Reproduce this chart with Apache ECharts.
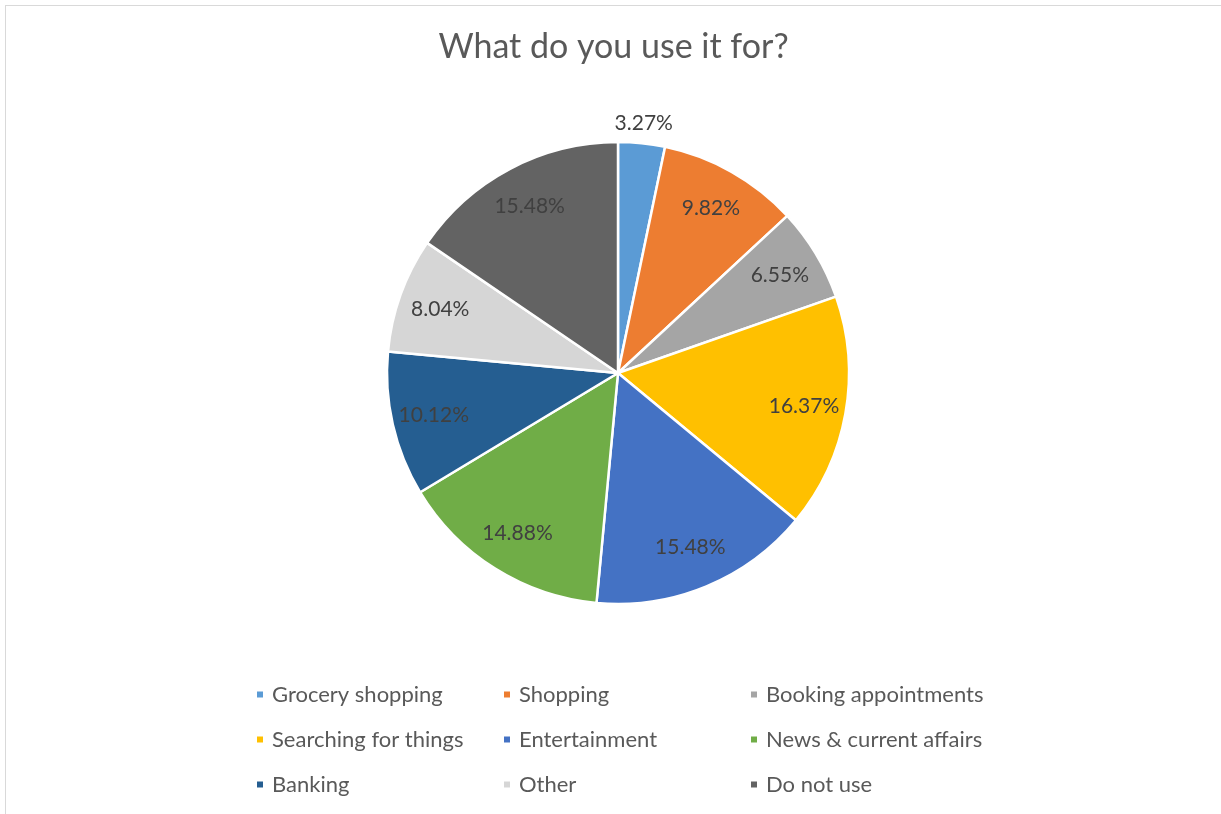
<!DOCTYPE html>
<html>
<head>
<meta charset="utf-8">
<script src="https://cdn.jsdelivr.net/npm/echarts@6/dist/echarts.min.js"></script>
<style>
  html, body { margin: 0; padding: 0; background: #ffffff; }
  #frame {
    position: absolute; left: 5px; top: 5px; width: 1216px; height: 809px;
    border-top: 1px solid #d9d9d9; border-left: 1px solid #d9d9d9;
    box-sizing: border-box; background: #ffffff;
  }
  #chart { width: 100%; height: 100%; }
</style>
</head>
<body>
<div id="frame"><div id="chart"></div></div>
<script>
// Survey answers: what people use it for (share of responses, %)
const categories = [
  'Grocery shopping', 'Shopping', 'Booking appointments',
  'Searching for things', 'Entertainment', 'News & current affairs',
  'Banking', 'Other', 'Do not use'
];
const shares = [3.27, 9.82, 6.55, 16.37, 15.48, 14.88, 10.12, 8.04, 15.48];
const colors = [
  '#5B9BD5', '#ED7D31', '#A5A5A5', '#FFC000', '#4472C4',
  '#70AD47', '#255E91', '#D6D6D6', '#636363'
];
const titleText = 'What do you use it for?';

const FONT = 'Lato, "Open Sans", sans-serif';
const CENTER = [612, 367];
const R = 231;

const fmt = p => p.value.toFixed(2) + '%';

// Slices
const sliceData = categories.map((name, i) => ({
  name, value: shares[i], itemStyle: { color: colors[i] }
}));

// Labels for the larger slices sit ~4/5 of the way out (inside-label of a bigger, invisible pie)
const innerLabelData = categories.map((name, i) => ({
  name, value: shares[i],
  label: { show: i !== 0 }
}));
// The small first slice gets its label just outside the rim
const outerLabelData = categories.map((name, i) => ({
  name, value: shares[i],
  label: { show: i === 0 }
}));

const labelSeriesBase = {
  type: 'pie',
  center: CENTER,
  silent: true,
  startAngle: 90,
  clockwise: true,
  itemStyle: { color: 'rgba(0,0,0,0)', borderWidth: 0 },
  emphasis: { disabled: true },
  labelLine: { show: false },
  label: {
    position: 'inside',
    formatter: fmt,
    fontFamily: FONT,
    fontSize: 21,
    color: '#404040'
  },
  animation: false,
  z: 3
};

const chart = echarts.init(document.getElementById('chart'), null, { renderer: 'canvas' });
chart.setOption({
  backgroundColor: '#ffffff',
  animation: false,
  color: colors,
  title: {
    text: titleText,
    left: 'center',
    top: 19,
    textStyle: { fontFamily: FONT, fontSize: 34, fontWeight: 'normal', color: '#595959' }
  },
  legend: {
    data: categories,
    left: 244,
    top: 666,
    width: 745,
    orient: 'horizontal',
    icon: 'rect',
    itemWidth: 8,
    itemHeight: 8,
    itemGap: 10,
    selectedMode: false,
    textStyle: {
      fontFamily: FONT, fontSize: 22, color: '#595959',
      width: 220, lineHeight: 35, padding: [0, 0, 0, 3]
    }
  },
  series: [
    {
      name: 'Use',
      type: 'pie',
      center: CENTER,
      radius: [0, R],
      startAngle: 90,
      clockwise: true,
      data: sliceData,
      label: { show: false },
      labelLine: { show: false },
      itemStyle: { borderColor: '#ffffff', borderWidth: 2.5 },
      emphasis: { scale: false },
      z: 2
    },
    Object.assign({}, labelSeriesBase, { name: 'labels-in', radius: [0, R * 1.61], data: innerLabelData }),
    Object.assign({}, labelSeriesBase, { name: 'labels-out', radius: [0, R * 2.15], data: outerLabelData })
  ]
});
</script>
</body>
</html>
